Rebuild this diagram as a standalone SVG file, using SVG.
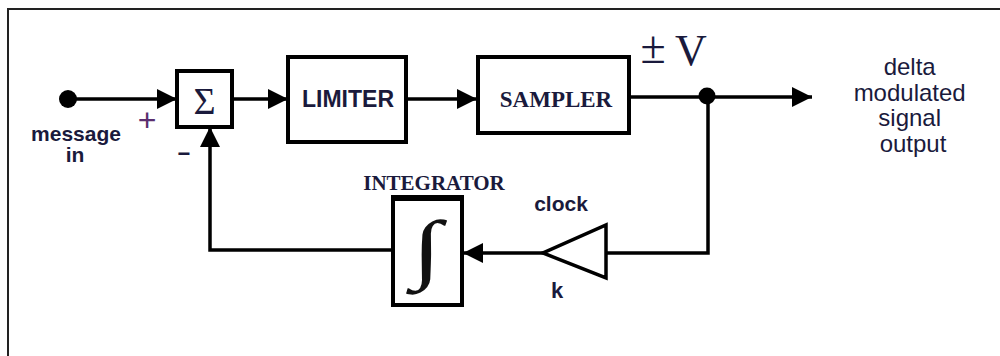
<svg xmlns="http://www.w3.org/2000/svg" width="1000" height="356" viewBox="0 0 1000 356">
<style>
.box{fill:#fff;stroke:#000;stroke-width:4}
.ln{fill:none;stroke:#000;stroke-width:3.5}
.sans{font-family:"Liberation Sans",Arial,sans-serif;fill:#1a1a3c}
.serif{font-family:"Liberation Serif","Times New Roman",serif;fill:#1a1a3c}
.b{font-weight:bold}
</style>
<defs>
<marker id="ah" viewBox="0 0 20 20" markerWidth="20" markerHeight="20" refX="20" refY="10" orient="auto" markerUnits="userSpaceOnUse">
<path d="M0,0 L20,10 L0,20 z" fill="#000"/>
</marker>
</defs>
<rect width="1000" height="356" fill="#fff"/>
<path d="M8,356 V9 H1000" fill="none" stroke="#222" stroke-width="2"/>

<g id="connectors">
<line class="ln" x1="68" y1="99" x2="177" y2="99" marker-end="url(#ah)"/>
<line class="ln" x1="232" y1="99" x2="288" y2="99" marker-end="url(#ah)"/>
<line class="ln" x1="406" y1="99" x2="477" y2="99" marker-end="url(#ah)"/>
<line class="ln" x1="629" y1="97" x2="812" y2="97" marker-end="url(#ah)"/>
<polyline class="ln" points="708,97 708,253 606,253"/>
<line class="ln" x1="543" y1="253" x2="463" y2="253" marker-end="url(#ah)"/>
<polyline class="ln" points="393,250 210,250 210,127" stroke-width="4.5" marker-end="url(#ah)"/>
</g>

<g id="input">
<circle cx="68" cy="99" r="9" fill="#000"/>
<text class="sans b" x="76" y="141" font-size="21" text-anchor="middle">message</text>
<text class="sans b" x="75" y="162" font-size="21" text-anchor="middle">in</text>
<text x="147" y="131" font-size="32" text-anchor="middle" font-family="Liberation Sans,Arial,sans-serif" fill="#5a2e6e">+</text>
<text class="sans b" x="184" y="161" font-size="22" text-anchor="middle">−</text>
</g>

<g id="sum">
<rect class="box" x="177" y="71" width="55" height="56"/>
<text class="serif" x="204.5" y="114" font-size="38" text-anchor="middle" fill="#111">Σ</text>
</g>

<g id="limiter">
<rect class="box" x="288" y="57" width="118" height="85"/>
<text class="sans b" x="348" y="107" font-size="23" text-anchor="middle">LIMITER</text>
</g>

<g id="sampler">
<rect class="box" x="478" y="57" width="151" height="76"/>
<text class="serif b" x="556" y="107" font-size="23" text-anchor="middle">SAMPLER</text>
</g>

<g id="junction">
<circle cx="707" cy="96" r="8.5" fill="#000"/>
<text class="serif" x="653" y="63" font-size="46" text-anchor="middle">±</text>
<text class="serif" x="691" y="65" font-size="44" text-anchor="middle">V</text>
</g>

<g id="output">
<text class="sans" font-size="24" text-anchor="middle">
<tspan x="913" y="75">delta</tspan>
<tspan x="913" y="100.5">modulated</tspan>
<tspan x="913" y="126">signal</tspan>
<tspan x="913" y="151.5">output</tspan>
</text>
</g>

<g id="clock">
<polygon points="606,225 606,278 543,253" fill="#fff" stroke="#000" stroke-width="3.5" stroke-linejoin="miter"/>
<text class="sans b" x="561" y="211" font-size="21" text-anchor="middle">clock</text>
<text class="sans b" x="557" y="298" font-size="22" text-anchor="middle">k</text>
</g>

<g id="integrator">
<rect class="box" x="393" y="198" width="69" height="107"/>
<line x1="391" y1="198" x2="464" y2="198" stroke="#000" stroke-width="6"/>
<text class="serif b" x="434" y="190" font-size="21" text-anchor="middle">INTEGRATOR</text>
<text x="0" y="0" font-size="64" text-anchor="middle" font-family="Liberation Serif,serif" fill="#111" transform="translate(427,274) scale(1.7,1.2)">∫</text>
</g>
</svg>
